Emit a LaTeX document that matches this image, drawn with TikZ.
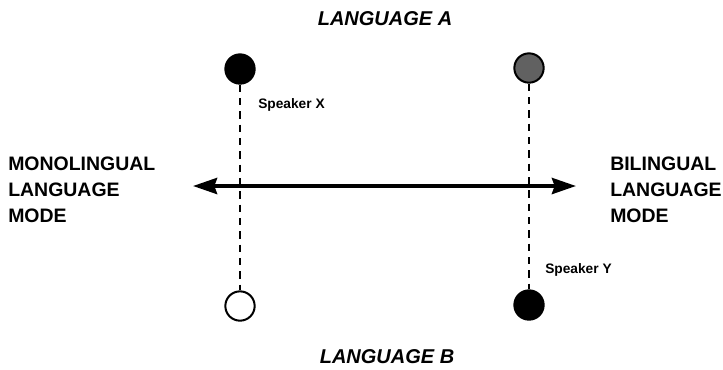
\documentclass[tikz,border=0pt]{standalone}
\usepackage{fontspec}
\setmainfont{Liberation Sans}
\usetikzlibrary{arrows.meta}
\begin{document}
\begin{tikzpicture}[x=0.75pt,y=-0.75pt,
  modelabel/.style={inner sep=0pt, align=left, anchor=base west,
    font=\fontsize{14.6}{19.5}\selectfont\bfseries},
  langlabel/.style={inner sep=0pt, anchor=base,
    font=\fontsize{15}{18}\selectfont\bfseries\itshape},
  speakerlabel/.style={inner sep=0pt, anchor=base west,
    font=\fontsize{10.3}{12}\selectfont\bfseries},
  speaker/.style={circle, draw=black, line width=1.5pt, minimum size=22pt, inner sep=0pt},
  filled/.style={speaker, fill=black},
  hollow/.style={speaker, fill=white},
  mixed/.style={speaker, fill=black!62},
  track/.style={line width=1.6pt, dash pattern=on 5.5pt off 4.5pt},
  continuum/.style={line width=3pt, {Stealth[length=18pt,width=12pt,inset=2pt]}-{Stealth[length=18pt,width=12pt,inset=2pt]}}
]
\useasboundingbox (0,0) rectangle (723,369);

% language labels
\node[langlabel] (langA) at (385,25) {LANGUAGE A};
\node[langlabel] (langB) at (387,363) {LANGUAGE B};

% endpoints of the mode continuum (base anchor sits on the last line)
\node[modelabel] (mono) at (8,222) {MONOLINGUAL\\LANGUAGE\\MODE};
\node[modelabel] (bi) at (610,222) {BILINGUAL\\LANGUAGE\\MODE};

% speaker positions
\node[filled] (xa) at (240,69) {};
\node[hollow] (xb) at (240,306) {};
\node[mixed] (ya) at (529,68) {};
\node[filled] (yb) at (529,305) {};

\draw[track] (xa) -- (xb);
\draw[track] (ya) -- (yb);

\node[speakerlabel] (sx) at (258,108) {Speaker X};
\node[speakerlabel] (sy) at (545,273) {Speaker Y};

% continuum arrow
\coordinate (left) at (193,186);
\coordinate (right) at (576,186);
\draw[continuum] (left) -- (right);
\end{tikzpicture}
\end{document}
